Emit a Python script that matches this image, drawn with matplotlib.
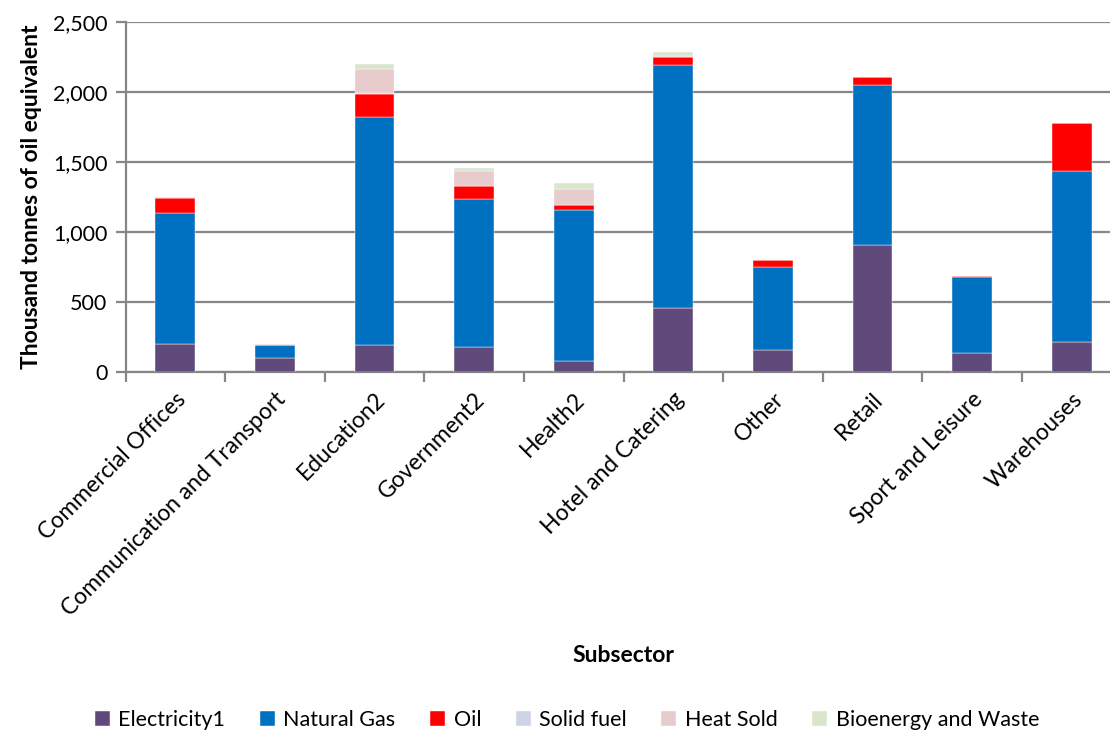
import numpy as np
import matplotlib
matplotlib.use('Agg')
import matplotlib.pyplot as plt
from matplotlib.ticker import FuncFormatter, MultipleLocator, FixedLocator

plt.rcParams['font.family'] = ['Lato', 'DejaVu Sans']

# Dati per sottosettore (migliaia di tonnellate equivalenti di petrolio)
subsectors = ['Commercial Offices', 'Communication and Transport', 'Education2',
              'Government2', 'Health2', 'Hotel and Catering', 'Other', 'Retail',
              'Sport and Leisure', 'Warehouses']
electricity = [200, 102, 193, 179, 81, 455, 159, 905, 138, 212]
natural_gas = [933, 88, 1631, 1057, 1076, 1735, 589, 1143, 538, 1224]
oil         = [108, 5, 164, 93, 38, 62, 50, 59, 7, 340]
solid_fuel  = [1, 0, 2, 2, 1, 1, 0, 0, 0, 0]
heat_sold   = [5, 3, 172, 107, 110, 5, 0, 0, 0, 0]
bioenergy   = [0, 0, 40, 16, 43, 29, 0, 0, 0, 0]

series = [
    ('Electricity1', electricity, '#604A7B'),
    ('Natural Gas', natural_gas, '#0070C0'),
    ('Oil', oil, '#FF0000'),
    ('Solid fuel', solid_fuel, '#CDD4E6'),
    ('Heat Sold', heat_sold, '#E8CBCD'),
    ('Bioenergy and Waste', bioenergy, '#DAE5CC'),
]

fig = plt.figure(figsize=(11.1, 7.34), dpi=100)
ax = fig.add_axes([125.5 / 1110, 1 - 372 / 734, 996 / 1110, 350 / 734])

x = np.arange(len(subsectors))
bottom = np.zeros(len(subsectors))
for name, vals, col in series:
    vals = np.array(vals, dtype=float)
    ax.bar(x, vals, width=0.4, bottom=bottom, color=col, label=name,
           edgecolor='white', linewidth=0.3, zorder=3)
    bottom += vals

grid_col = '#868686'
ax.set_ylim(0, 2500)
ax.set_xlim(-0.5, len(subsectors) - 0.5)
ax.yaxis.set_major_locator(MultipleLocator(500))
ax.yaxis.set_major_formatter(FuncFormatter(lambda v, p: f'{int(v):,}'))
ax.grid(axis='y', color=grid_col, linewidth=1.6, zorder=0)

for s in ['top', 'right']:
    ax.spines[s].set_visible(False)
for s in ['left', 'bottom']:
    ax.spines[s].set_color(grid_col)
    ax.spines[s].set_linewidth(1.6)

ax.tick_params(axis='y', colors=grid_col, length=7, width=1.6, labelcolor='black',
               labelsize=15.5, pad=6)
ax.set_xticks(x)
ax.set_xticklabels(subsectors, rotation=45, ha='right', rotation_mode='anchor',
                   fontsize=16.5)
ax.tick_params(axis='x', which='major', length=0, pad=12)
ax.xaxis.set_minor_locator(FixedLocator(np.arange(-0.5, len(subsectors), 1.0)))
ax.tick_params(axis='x', which='minor', colors=grid_col, length=7, width=1.6)

ax.set_ylabel('Thousand tonnes of oil equivalent', fontsize=16.5, fontweight='bold',
              labelpad=8)
fig.text(623 / 1110, 1 - 655 / 734, 'Subsector', fontsize=16.5, fontweight='bold',
         ha='center', va='center')

handles, labels = ax.get_legend_handles_labels()
fig.legend(handles, labels, loc='center', bbox_to_anchor=(567 / 1110, 1 - 720 / 734),
           ncol=6, frameon=False, fontsize=15.5, handlelength=0.7, handleheight=0.7,
           handletextpad=0.4, columnspacing=1.6)

fig.savefig('out.png', dpi=100)
